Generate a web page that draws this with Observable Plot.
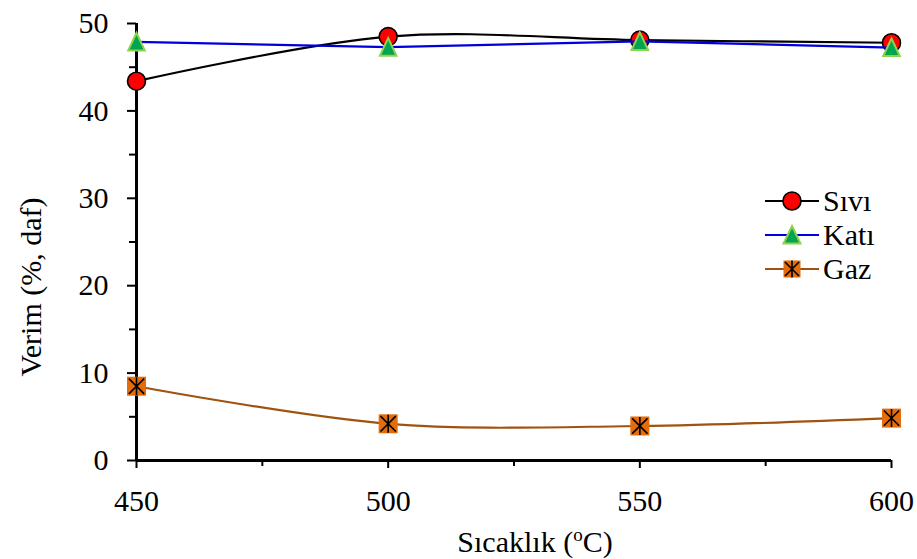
<!DOCTYPE html>
<html><head><meta charset="utf-8">
<script src="https://cdn.jsdelivr.net/npm/d3@7"></script>
<script src="https://cdn.jsdelivr.net/npm/@observablehq/plot@0.6"></script>
<style>
body{margin:0;background:#fff;}
#wrap{position:relative;width:917px;height:559px;font-family:'Liberation Serif', serif;}
#legend{position:absolute;left:765px;top:184px;font-size:30px;color:#000;font-family:'Liberation Serif', serif;}
.row{display:flex;align-items:center;height:34px;}
.row svg{margin-right:4px;}
</style></head><body><div id="wrap"><div id="chart"></div><div id="legend"></div></div>
<script>
const temps = [450, 500, 550, 600];
const sivi = [43.4, 48.5, 48.1, 47.8];
const kati = [47.9, 47.3, 47.95, 47.25];
const gaz = [8.5, 4.2, 3.95, 4.85];
const seriesNames = ["Sıvı", "Katı", "Gaz"];
const xTicks = [450, 500, 550, 600];
const xMinor = [475, 525, 575];
const yTicks = [0, 10, 20, 30, 40, 50];
const yMinor = [5, 15, 25, 35, 45];

const toRows = (vals) => temps.map((t, i) => ({t, v: vals[i]}));
const siviRows = toRows(sivi), katiRows = toRows(kati), gazRows = toRows(gaz);

const rad = (size) => Math.sqrt(size / Math.PI);
const triSym = {draw(ctx, size){ const r = rad(size); ctx.moveTo(0, -r); ctx.lineTo(r*0.92, r*0.95); ctx.lineTo(-r*0.92, r*0.95); ctx.closePath(); }};
const sqSym = {draw(ctx, size){ const r = rad(size); ctx.rect(-r, -r, 2*r, 2*r); }};
const astSym = {draw(ctx, size){ const r = rad(size);
  ctx.moveTo(-r*0.85, -r*0.85); ctx.lineTo(r*0.85, r*0.85);
  ctx.moveTo(r*0.85, -r*0.85); ctx.lineTo(-r*0.85, r*0.85);
  ctx.moveTo(0, -r); ctx.lineTo(0, r); }};

const colors = {sivi: "#000000", kati: "#0000dd", gaz: "#a0520f"};

const chart = Plot.plot({
  width: 917, height: 559,
  marginLeft: 136, marginRight: 26, marginTop: 23, marginBottom: 99,
  style: {fontFamily: "Liberation Serif", fontSize: "30px", color: "#000", background: "#fff"},
  x: {domain: [450, 600]},
  y: {domain: [0, 50]},
  marks: [
    Plot.axisX({ticks: xTicks, tickSize: 8, tickPadding: 21, strokeWidth: 2, label: null, tickFormat: d => String(d)}),
    Plot.axisX({ticks: xMinor, tickSize: 6, strokeWidth: 2, tickFormat: () => "", label: null}),
    Plot.axisY({ticks: yTicks, tickSize: 9, tickPadding: 19, strokeWidth: 2, label: null}),
    Plot.axisY({ticks: yMinor, tickSize: 7, strokeWidth: 2, tickFormat: () => "", label: null}),
    Plot.ruleY([0], {x1: 450, x2: 600, stroke: "#000", strokeWidth: 3}),
    Plot.ruleX([450], {y1: 0, y2: 50, stroke: "#000", strokeWidth: 3}),
    Plot.line(gazRows, {x: "t", y: "v", stroke: colors.gaz, strokeWidth: 2.2, curve: "cardinal"}),
    Plot.dot(gazRows, {x: "t", y: "v", symbol: sqSym, r: 9.5, fill: "#e46c0a", stroke: "none"}),
    Plot.dot(gazRows, {x: "t", y: "v", symbol: astSym, r: 9, fill: "none", stroke: "#000", strokeWidth: 1.6}),
    Plot.line(siviRows, {x: "t", y: "v", stroke: colors.sivi, strokeWidth: 2.2, curve: "cardinal"}),
    Plot.dot(siviRows, {x: "t", y: "v", r: 9, fill: "#ff0000", stroke: "#000", strokeWidth: 1.6}),
    Plot.line(katiRows, {x: "t", y: "v", stroke: colors.kati, strokeWidth: 2.2}),
    Plot.dot(katiRows, {x: "t", y: "v", symbol: triSym, r: 9, fill: "#00a54f", stroke: "#92d050", strokeWidth: 2})
  ]
});
document.getElementById("chart").appendChild(chart);

const svg = d3.select(chart);
svg.append("text")
  .attr("transform", "translate(30,287) rotate(-90)")
  .attr("text-anchor", "middle").attr("dy", "0.35em")
  .attr("fill", "#000").style("font-size", "30px")
  .text("Verim (%, daf)");
const xl = svg.append("text")
  .attr("x", 535).attr("y", 552)
  .attr("text-anchor", "middle").attr("fill", "#000").style("font-size", "30px");
xl.append("tspan").text("Sıcaklık (");
xl.append("tspan").attr("dy", -11).style("font-size", "19px").text("o");
xl.append("tspan").attr("dy", 11).text("C)");

const leg = d3.select("#legend");
const legendDefs = [
  {name: seriesNames[0], stroke: colors.sivi, marker: (g) => g.append("circle").attr("cx", 27).attr("cy", 16).attr("r", 9).attr("fill", "#ff0000").attr("stroke", "#000").attr("stroke-width", 1.6)},
  {name: seriesNames[1], stroke: colors.kati, marker: (g) => g.append("path").attr("d", "M27,7 L35.5,24.5 L18.5,24.5 Z").attr("fill", "#00a54f").attr("stroke", "#92d050").attr("stroke-width", 2)},
  {name: seriesNames[2], stroke: colors.gaz, marker: (g) => {
    g.append("rect").attr("x", 18.5).attr("y", 7.5).attr("width", 17).attr("height", 17).attr("fill", "#e46c0a");
    g.append("path").attr("d", "M20,9 L34,23 M34,9 L20,23 M27,7.5 L27,24.5").attr("stroke", "#000").attr("stroke-width", 1.6).attr("fill", "none");
  }}
];
legendDefs.forEach(d => {
  const row = leg.append("div").attr("class", "row");
  const s = row.append("svg").attr("width", 54).attr("height", 32);
  s.append("line").attr("x1", 0).attr("x2", 54).attr("y1", 16).attr("y2", 16).attr("stroke", d.stroke).attr("stroke-width", 2.2);
  d.marker(s);
  row.append("span").text(d.name);
});
</script>
</body></html>
